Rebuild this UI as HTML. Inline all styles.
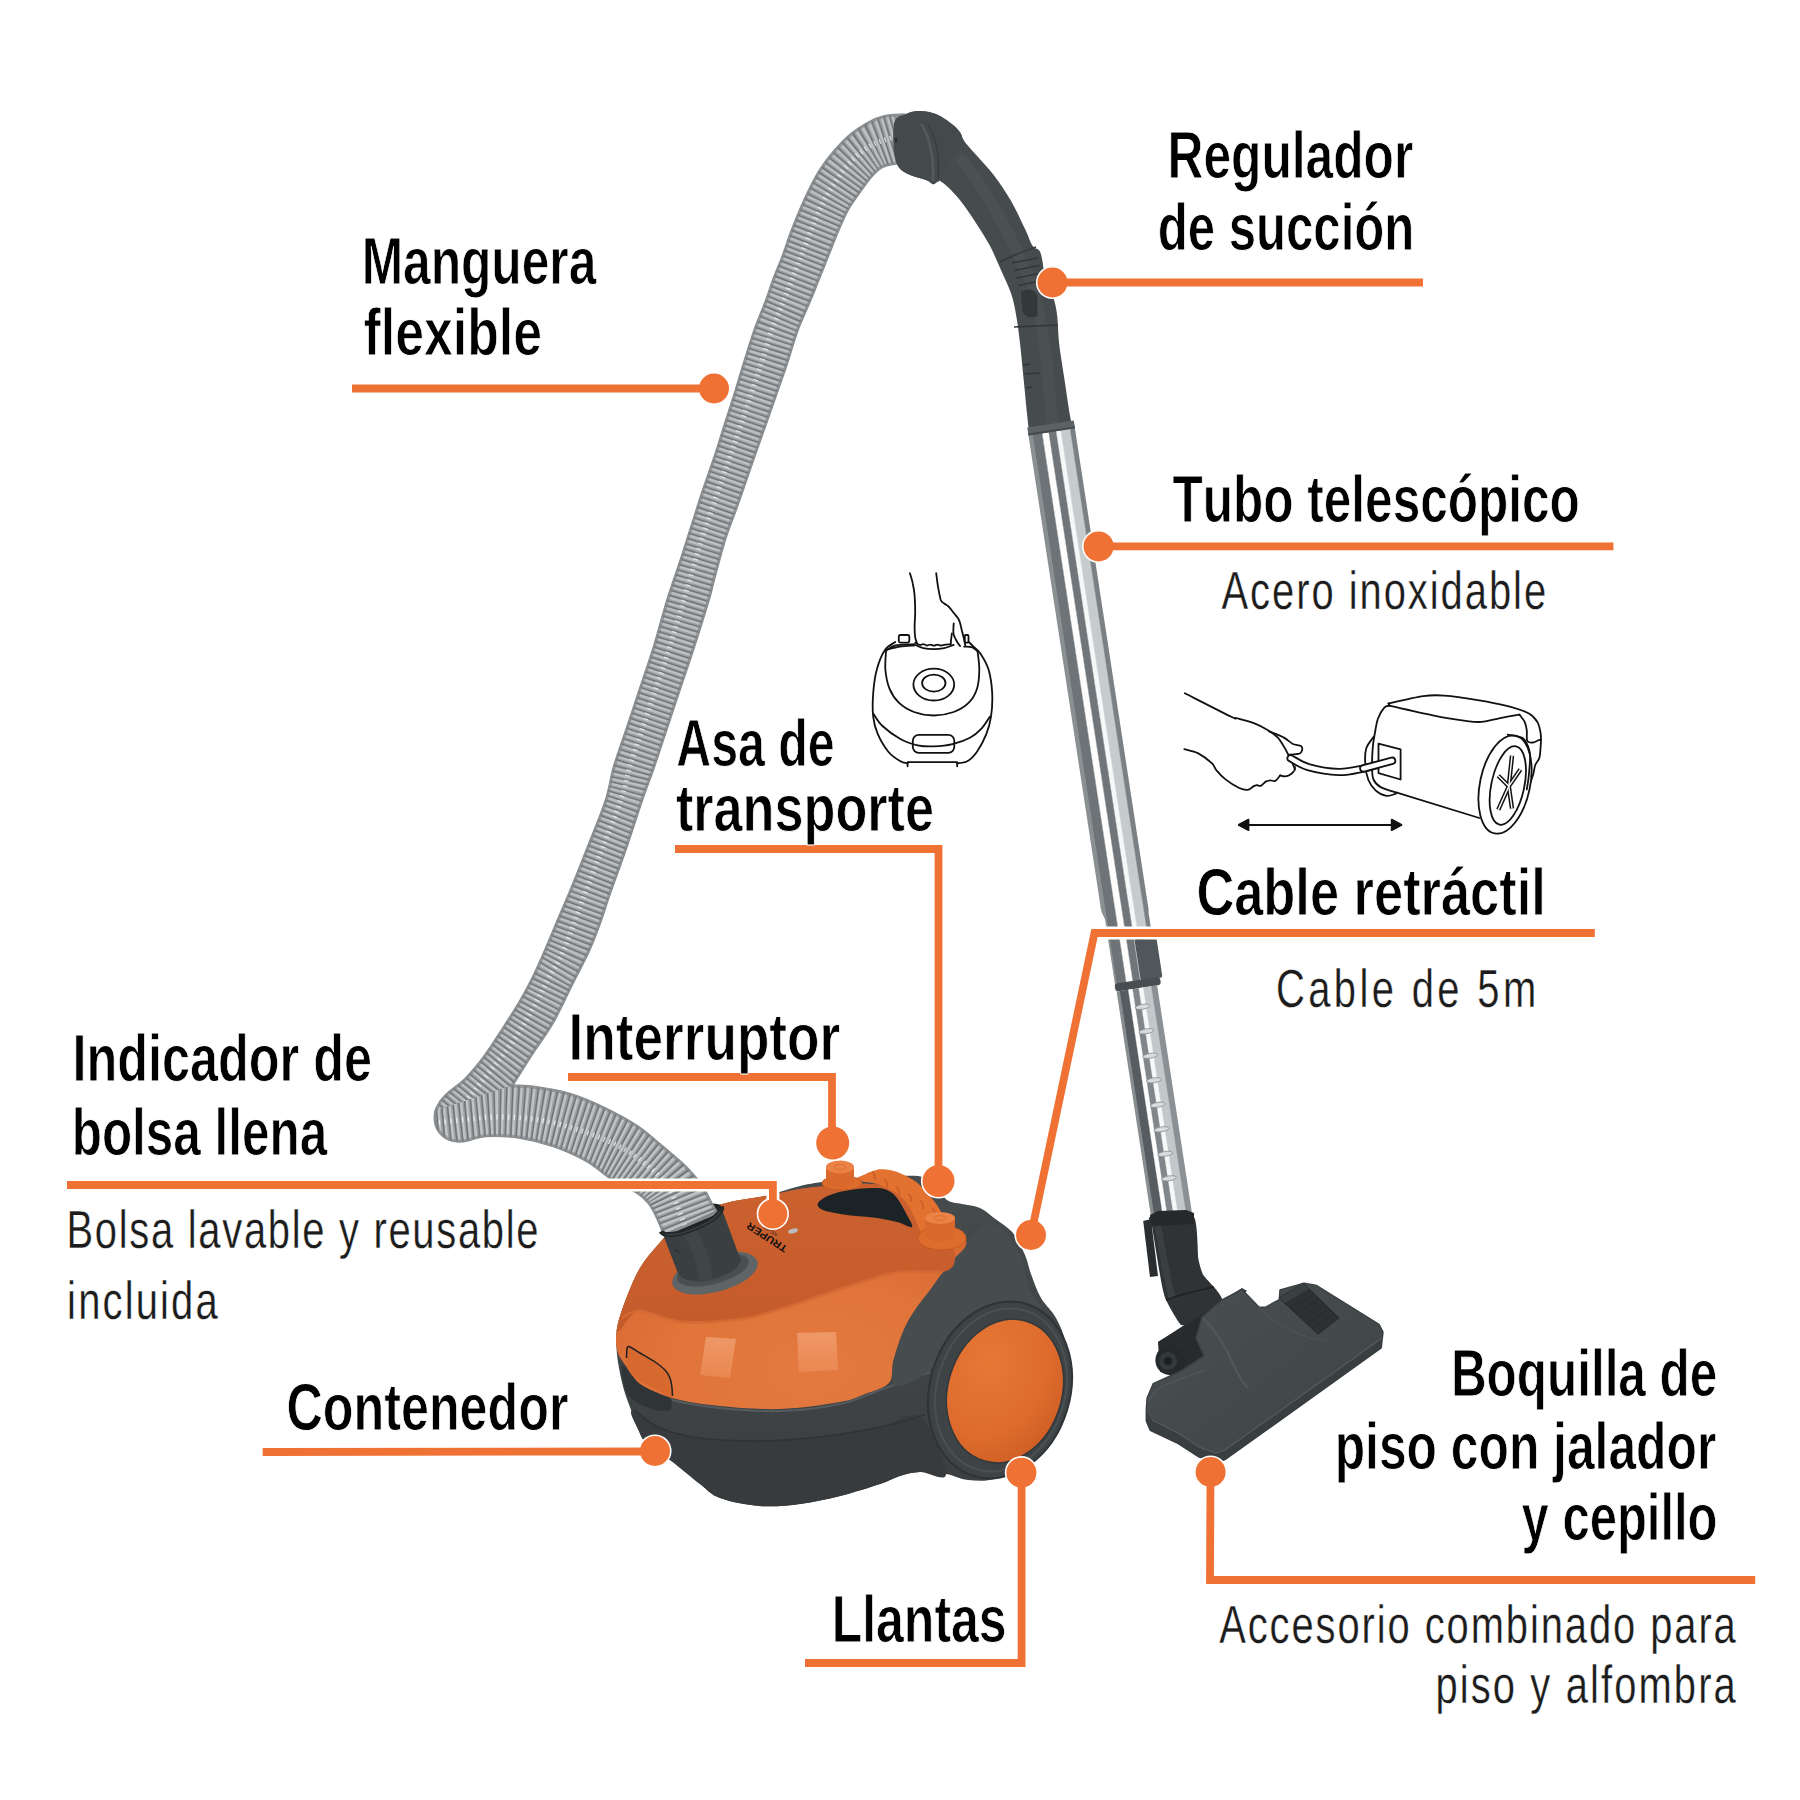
<!DOCTYPE html>
<html><head><meta charset="utf-8"><title>Aspiradora</title>
<style>
html,body{margin:0;padding:0;background:#fff;width:1800px;height:1800px;overflow:hidden}
svg{display:block;font-family:"Liberation Sans", sans-serif;font-kerning:none}
text{font-kerning:none}
</style></head><body>
<svg width="1800" height="1800" viewBox="0 0 1800 1800">
<defs>
<clipPath id="hoseClip"><path d="M664.0,1236.0 C662.5,1232.5 657.7,1220.5 655.0,1215.0 C652.3,1209.5 651.0,1206.9 648.0,1203.3 C645.0,1199.7 642.8,1197.2 636.7,1193.3 C630.7,1189.4 620.0,1185.3 611.7,1180.0 C603.4,1174.7 596.4,1167.2 586.7,1161.7 C577.0,1156.2 564.4,1150.6 553.3,1146.7 C542.2,1142.8 531.1,1140.0 520.0,1138.3 C508.9,1136.6 496.4,1136.1 486.7,1136.7 C477.0,1137.3 468.4,1141.5 462.0,1142.0 C455.6,1142.5 452.2,1141.7 448.3,1140.0 C444.4,1138.3 440.7,1135.0 438.3,1131.7 C435.9,1128.4 434.6,1123.9 434.2,1120.0 C433.8,1116.1 434.0,1112.5 435.8,1108.3 C437.6,1104.1 440.1,1100.0 445.0,1095.0 C449.9,1090.0 458.6,1084.7 465.0,1078.3 C471.4,1071.9 476.9,1065.3 483.3,1056.7 C489.7,1048.1 497.2,1036.2 503.3,1026.7 C509.4,1017.2 515.0,1008.6 520.0,1000.0 C525.0,991.4 528.8,984.2 533.3,975.0 C537.8,965.8 542.6,954.5 546.7,945.0 C550.8,935.5 554.1,927.2 558.0,918.0 C561.9,908.8 565.2,901.6 570.0,890.0 C574.8,878.4 580.8,863.3 586.7,848.3 C592.6,833.3 600.9,813.6 605.3,800.0 C609.7,786.4 609.7,778.9 613.3,766.7 C616.9,754.5 622.2,740.0 626.7,726.7 C631.2,713.4 635.6,700.0 640.0,686.7 C644.4,673.4 648.8,661.2 653.3,646.7 C657.8,632.2 662.2,614.6 666.7,600.0 C671.2,585.4 676.2,571.8 680.3,559.2 C684.4,546.6 687.7,536.0 691.4,524.4 C695.1,512.8 698.8,500.8 702.5,489.7 C706.2,478.6 710.1,468.2 713.6,457.8 C717.1,447.4 720.0,437.4 723.3,427.2 C726.5,417.0 729.9,407.1 733.1,396.7 C736.4,386.3 739.3,375.8 742.8,364.7 C746.3,353.6 750.1,340.8 753.9,330.0 C757.7,319.2 762.4,308.7 765.6,300.0 C768.8,291.3 770.5,285.2 773.3,277.8 C776.1,270.4 779.4,263.0 782.2,255.6 C785.0,248.2 787.2,240.7 790.0,233.3 C792.8,225.9 795.8,218.5 798.9,211.1 C802.0,203.7 805.4,195.9 808.9,188.9 C812.4,181.9 815.8,175.4 820.0,168.9 C824.2,162.4 829.2,155.9 834.4,150.0 C839.6,144.1 845.5,137.9 851.1,133.3 C856.7,128.7 862.2,125.2 867.8,122.2 C873.3,119.2 878.3,117.0 884.4,115.6 C890.5,114.2 901.1,114.2 904.4,113.9 L897.0,164.0 C894.5,164.6 886.5,165.5 882.2,167.8 C877.9,170.1 875.0,173.4 871.1,177.8 C867.2,182.2 862.8,188.9 858.9,194.4 C855.0,199.9 851.3,204.6 847.8,211.1 C844.3,217.6 840.9,225.9 837.8,233.3 C834.6,240.7 831.9,248.2 828.9,255.6 C825.9,263.0 823.0,270.4 820.0,277.8 C817.0,285.2 814.7,291.3 811.1,300.0 C807.5,308.7 802.3,319.2 798.3,330.0 C794.3,340.8 790.7,354.3 787.2,364.7 C783.7,375.1 780.7,383.2 777.5,392.5 C774.3,401.8 771.0,411.1 767.8,420.3 C764.5,429.6 761.2,438.8 758.0,448.0 C754.8,457.2 751.8,465.8 748.3,475.8 C744.8,485.8 740.9,497.4 737.2,507.8 C733.5,518.2 729.8,526.6 726.1,538.3 C722.4,550.0 717.8,567.7 715.0,578.0 C712.2,588.3 712.7,588.5 709.3,600.0 C705.9,611.5 699.4,632.2 694.7,646.7 C690.0,661.2 685.8,673.4 681.3,686.7 C676.8,700.0 672.4,713.4 668.0,726.7 C663.6,740.0 658.8,754.8 654.7,766.7 C650.6,778.6 648.0,784.7 643.3,798.3 C638.6,811.9 632.2,832.2 626.7,848.3 C621.2,864.4 614.2,883.0 610.0,895.0 C605.8,907.0 605.0,910.8 601.7,920.0 C598.4,929.2 594.7,939.5 590.0,950.0 C585.3,960.5 579.4,971.1 573.3,983.3 C567.2,995.5 560.0,1011.6 553.3,1023.3 C546.6,1035.0 540.0,1043.0 533.3,1053.3 C526.6,1063.6 516.6,1079.7 513.3,1085.0 L513.3,1085.0 C517.2,1085.3 527.2,1085.3 536.7,1086.7 C546.2,1088.1 558.9,1090.0 570.0,1093.3 C581.1,1096.6 592.2,1101.4 603.3,1106.7 C614.4,1112.0 627.0,1118.6 636.7,1125.0 C646.4,1131.4 653.4,1138.0 661.7,1145.0 C670.0,1152.0 679.8,1159.8 686.7,1166.7 C693.6,1173.7 699.1,1180.7 703.3,1186.7 C707.5,1192.8 709.5,1198.6 712.0,1203.0 C714.5,1207.4 717.0,1211.3 718.0,1213.0 Z"/></clipPath>
<clipPath id="upHalf"><path d="M0,0 L1800,0 L1800,668.9 L0,1251.0 Z"/></clipPath>
<clipPath id="loHalf"><path d="M0,1800 L1800,1800 L1800,668.9 L0,1251.0 Z"/></clipPath>
<linearGradient id="metal" x1="0" y1="0" x2="1" y2="0"><stop offset="0" stop-color="#8a8f92"/><stop offset="0.086" stop-color="#8a8f92"/><stop offset="0.1" stop-color="#6d7376"/><stop offset="0.28" stop-color="#6d7376"/><stop offset="0.31" stop-color="#fdfdfd"/><stop offset="0.42" stop-color="#fdfdfd"/><stop offset="0.45" stop-color="#6f7579"/><stop offset="0.58" stop-color="#6f7579"/><stop offset="0.61" stop-color="#f6f7f7"/><stop offset="0.68" stop-color="#f6f7f7"/><stop offset="0.71" stop-color="#c6cbce"/><stop offset="0.88" stop-color="#c6cbce"/><stop offset="0.91" stop-color="#7a8084"/><stop offset="1" stop-color="#7a8084"/></linearGradient>
<linearGradient id="metal2" x1="0" y1="0" x2="1" y2="0"><stop offset="0" stop-color="#878c8f"/><stop offset="0.07" stop-color="#878c8f"/><stop offset="0.09" stop-color="#565c5f"/><stop offset="0.27" stop-color="#565c5f"/><stop offset="0.3" stop-color="#fdfdfd"/><stop offset="0.38" stop-color="#fdfdfd"/><stop offset="0.41" stop-color="#80868a"/><stop offset="0.53" stop-color="#80868a"/><stop offset="0.56" stop-color="#f6f7f7"/><stop offset="0.64" stop-color="#f6f7f7"/><stop offset="0.67" stop-color="#c2c7ca"/><stop offset="0.84" stop-color="#c2c7ca"/><stop offset="0.87" stop-color="#8a9094"/><stop offset="1" stop-color="#8a9094"/></linearGradient>
<linearGradient id="metal3" x1="0" y1="0" x2="1" y2="0"><stop offset="0" stop-color="#8a8f92"/><stop offset="0.08" stop-color="#8a8f92"/><stop offset="0.1" stop-color="#666c6f"/><stop offset="0.28" stop-color="#666c6f"/><stop offset="0.31" stop-color="#fbfbfb"/><stop offset="0.4" stop-color="#fbfbfb"/><stop offset="0.43" stop-color="#7d8386"/><stop offset="1" stop-color="#7d8386"/></linearGradient>
<linearGradient id="nozG" x1="0" y1="0" x2="1" y2="1">
<stop offset="0" stop-color="#4a5052"/><stop offset="0.6" stop-color="#43484a"/><stop offset="1" stop-color="#3b4042"/></linearGradient>
<linearGradient id="baseG" x1="0" y1="0" x2="0" y2="1">
<stop offset="0" stop-color="#464b4d"/><stop offset="1" stop-color="#3a3e40"/></linearGradient>
<radialGradient id="orG" cx="0.55" cy="0.82" r="0.8">
<stop offset="0" stop-color="#E47A40"/><stop offset="0.5" stop-color="#E07439"/><stop offset="0.85" stop-color="#D86A33"/><stop offset="1" stop-color="#CC6030"/></radialGradient>
<linearGradient id="orTop" x1="0" y1="0" x2="0" y2="1">
<stop offset="0" stop-color="#CB612F"/><stop offset="0.75" stop-color="#C75D2C"/><stop offset="1" stop-color="#C25A2A"/></linearGradient>
<linearGradient id="refl" x1="0" y1="0" x2="0" y2="1">
<stop offset="0" stop-color="#F2A377" stop-opacity="0.75"/><stop offset="1" stop-color="#F09562" stop-opacity="0.55"/></linearGradient>
<radialGradient id="whG" cx="0.3" cy="0.35" r="0.85">
<stop offset="0" stop-color="#E67836"/><stop offset="0.6" stop-color="#DE6B2D"/><stop offset="1" stop-color="#CA5B22"/></radialGradient>
</defs>
<rect width="1800" height="1800" fill="#fff"/>
<g id="vacuum">
<path d="M616.5,1348.0 C616.2,1341.1 615.6,1335.2 617.3,1326.7 C619.0,1318.2 622.9,1307.1 626.7,1297.3 C630.5,1287.5 634.7,1276.9 640.0,1268.0 C645.3,1259.1 652.0,1251.5 658.7,1244.0 C665.4,1236.5 672.0,1228.5 680.0,1222.7 C688.0,1216.9 697.8,1212.9 706.7,1209.3 C715.6,1205.7 723.5,1203.5 733.3,1201.3 C743.1,1199.1 754.2,1198.5 765.3,1196.0 C776.4,1193.5 789.2,1188.5 800.0,1186.0 C810.8,1183.5 818.3,1182.3 830.0,1181.0 C841.7,1179.7 855.3,1178.8 870.0,1178.0 C884.7,1177.2 907.0,1174.7 918.0,1176.0 C929.0,1177.3 931.2,1182.0 936.0,1186.0 C940.8,1190.0 942.7,1197.0 947.0,1200.0 C951.3,1203.0 956.5,1202.7 962.0,1204.0 C967.5,1205.3 974.7,1205.7 980.0,1208.0 C985.3,1210.3 988.5,1213.8 994.0,1218.0 C999.5,1222.2 1007.8,1226.8 1013.0,1233.0 C1018.2,1239.2 1022.0,1248.2 1025.0,1255.0 C1028.0,1261.8 1028.3,1266.8 1031.0,1274.0 C1033.7,1281.2 1036.8,1290.7 1041.0,1298.0 C1045.2,1305.3 1051.8,1310.2 1056.0,1318.0 C1060.2,1325.8 1064.3,1334.7 1066.0,1345.0 C1067.7,1355.3 1067.3,1369.2 1066.0,1380.0 C1064.7,1390.8 1062.0,1400.2 1058.0,1410.0 C1054.0,1419.8 1048.2,1429.8 1042.0,1439.0 C1035.8,1448.2 1028.8,1458.3 1021.0,1465.0 C1013.2,1471.7 1003.8,1476.5 995.0,1479.0 C986.2,1481.5 976.2,1480.8 968.0,1480.0 C959.8,1479.2 954.0,1475.3 946.0,1474.0 C938.0,1472.7 927.7,1471.7 920.0,1472.0 C912.3,1472.3 906.7,1474.0 900.0,1476.0 C893.3,1478.0 890.0,1480.7 880.0,1484.0 C870.0,1487.3 853.3,1492.7 840.0,1496.0 C826.7,1499.3 813.3,1502.3 800.0,1504.0 C786.7,1505.7 773.3,1507.0 760.0,1506.0 C746.7,1505.0 730.0,1501.7 720.0,1498.0 C710.0,1494.3 708.3,1490.3 700.0,1484.0 C691.7,1477.7 678.7,1466.3 670.0,1460.0 C661.3,1453.7 653.3,1451.2 648.0,1446.0 C642.7,1440.8 640.8,1435.0 638.0,1429.0 C635.2,1423.0 633.3,1416.5 631.0,1410.0 C628.7,1403.5 626.0,1397.0 624.0,1390.0 C622.0,1383.0 620.2,1375.0 619.0,1368.0 C617.8,1361.0 616.8,1354.9 616.5,1348.0 Z" fill="url(#baseG)"/>
<path d="M632.0,1411.0 C635.7,1410.8 648.7,1423.5 660.0,1428.0 C671.3,1432.5 683.3,1435.8 700.0,1438.0 C716.7,1440.2 740.0,1441.2 760.0,1441.0 C780.0,1440.8 800.0,1439.3 820.0,1437.0 C840.0,1434.7 863.3,1430.3 880.0,1427.0 C896.7,1423.7 909.0,1409.2 920.0,1417.0 C931.0,1424.8 946.0,1464.8 946.0,1474.0 C946.0,1483.2 927.7,1471.7 920.0,1472.0 C912.3,1472.3 906.7,1474.0 900.0,1476.0 C893.3,1478.0 890.0,1480.7 880.0,1484.0 C870.0,1487.3 853.3,1492.7 840.0,1496.0 C826.7,1499.3 813.3,1502.3 800.0,1504.0 C786.7,1505.7 773.3,1507.0 760.0,1506.0 C746.7,1505.0 730.0,1501.7 720.0,1498.0 C710.0,1494.3 708.3,1490.3 700.0,1484.0 C691.7,1477.7 678.7,1466.3 670.0,1460.0 C661.3,1453.7 653.3,1451.2 648.0,1446.0 C642.7,1440.8 640.7,1434.8 638.0,1429.0 C635.3,1423.2 628.3,1411.2 632.0,1411.0 Z" fill="#373b3d"/>
<path d="M634.0,1410.0 C638.3,1413.0 649.0,1423.3 660.0,1428.0 C671.0,1432.7 683.3,1435.8 700.0,1438.0 C716.7,1440.2 740.0,1441.2 760.0,1441.0 C780.0,1440.8 800.0,1439.3 820.0,1437.0 C840.0,1434.7 862.5,1430.7 880.0,1427.0 C897.5,1423.3 917.5,1417.0 925.0,1415.0" fill="none" stroke="#2f3335" stroke-width="1.5"/>
<path d="M640.0,1388.0 C645.3,1390.0 658.7,1396.7 672.0,1400.0 C685.3,1403.3 702.0,1406.2 720.0,1408.0 C738.0,1409.8 760.0,1411.7 780.0,1411.0 C800.0,1410.3 823.3,1407.5 840.0,1404.0 C856.7,1400.5 865.0,1395.3 880.0,1390.0 C895.0,1384.7 921.7,1375.0 930.0,1372.0" fill="none" stroke="#555b5e" stroke-width="2"/>
<path d="M943.0,1272.0 C950.2,1262.5 953.0,1257.8 960.0,1250.0 C967.0,1242.2 977.5,1228.0 985.0,1225.0 C992.5,1222.0 999.2,1227.0 1005.0,1232.0 C1010.8,1237.0 1015.8,1245.3 1020.0,1255.0 C1024.2,1264.7 1026.7,1280.8 1030.0,1290.0 C1033.3,1299.2 1045.0,1305.3 1040.0,1310.0 C1035.0,1314.7 1013.3,1314.7 1000.0,1318.0 C986.7,1321.3 971.7,1321.3 960.0,1330.0 C948.3,1338.7 941.0,1360.8 930.0,1370.0 C919.0,1379.2 899.0,1390.0 894.0,1385.0 C889.0,1380.0 896.2,1353.0 900.0,1340.0 C903.8,1327.0 909.8,1318.3 917.0,1307.0 C924.2,1295.7 935.8,1281.5 943.0,1272.0 Z" fill="#474c4f"/>
<path d="M617.0,1350.0 C615.5,1343.5 615.7,1335.5 617.3,1326.7 C618.9,1317.9 622.9,1307.1 626.7,1297.3 C630.5,1287.5 634.7,1276.9 640.0,1268.0 C645.3,1259.1 652.0,1251.5 658.7,1244.0 C665.4,1236.5 672.0,1228.5 680.0,1222.7 C688.0,1216.9 697.8,1212.9 706.7,1209.3 C715.6,1205.7 723.5,1203.5 733.3,1201.3 C743.1,1199.1 754.2,1198.0 765.3,1196.0 C776.4,1194.0 789.2,1190.7 800.0,1189.0 C810.8,1187.3 818.3,1186.8 830.0,1186.0 C841.7,1185.2 857.5,1183.3 870.0,1184.0 C882.5,1184.7 895.3,1186.3 905.0,1190.0 C914.7,1193.7 921.3,1200.2 928.0,1206.0 C934.7,1211.8 939.3,1220.7 945.0,1225.0 C950.7,1229.3 958.5,1228.7 962.0,1232.0 C965.5,1235.3 967.2,1240.7 966.0,1245.0 C964.8,1249.3 958.8,1253.5 955.0,1258.0 C951.2,1262.5 947.2,1266.7 943.0,1272.0 C938.8,1277.3 934.3,1284.2 930.0,1290.0 C925.7,1295.8 920.8,1301.5 917.0,1307.0 C913.2,1312.5 910.0,1317.2 907.0,1323.0 C904.0,1328.8 901.3,1335.5 899.0,1342.0 C896.7,1348.5 894.7,1355.2 893.0,1362.0 C891.3,1368.8 893.7,1377.7 889.0,1383.0 C884.3,1388.3 873.2,1390.8 865.0,1394.0 C856.8,1397.2 854.2,1399.5 840.0,1402.0 C825.8,1404.5 800.0,1408.3 780.0,1409.0 C760.0,1409.7 738.0,1407.8 720.0,1406.0 C702.0,1404.2 685.3,1401.7 672.0,1398.0 C658.7,1394.3 647.7,1389.3 640.0,1384.0 C632.3,1378.7 629.8,1371.7 626.0,1366.0 C622.2,1360.3 618.5,1356.5 617.0,1350.0 Z" fill="url(#orG)"/>
<path d="M617.3,1326.7 C618.4,1321.2 622.9,1307.1 626.7,1297.3 C630.5,1287.5 634.7,1276.9 640.0,1268.0 C645.3,1259.1 652.0,1251.5 658.7,1244.0 C665.4,1236.5 672.0,1228.5 680.0,1222.7 C688.0,1216.9 697.8,1212.9 706.7,1209.3 C715.6,1205.7 723.5,1203.5 733.3,1201.3 C743.1,1199.1 754.2,1198.0 765.3,1196.0 C776.4,1194.0 789.2,1190.7 800.0,1189.0 C810.8,1187.3 818.3,1186.8 830.0,1186.0 C841.7,1185.2 857.5,1183.3 870.0,1184.0 C882.5,1184.7 895.3,1186.3 905.0,1190.0 C914.7,1193.7 921.3,1200.2 928.0,1206.0 C934.7,1211.8 940.5,1216.3 945.0,1225.0 C949.5,1233.7 955.3,1250.2 955.0,1258.0 C954.7,1265.8 952.2,1269.7 943.0,1272.0 C933.8,1274.3 912.0,1270.8 900.0,1272.0 C888.0,1273.2 883.0,1275.5 871.0,1279.0 C859.0,1282.5 842.5,1288.2 828.0,1293.0 C813.5,1297.8 798.5,1303.7 784.0,1308.0 C769.5,1312.3 757.8,1316.7 741.0,1319.0 C724.2,1321.3 699.8,1323.3 683.0,1322.0 C666.2,1320.7 650.5,1309.7 640.0,1311.0 C629.5,1312.3 623.8,1327.4 620.0,1330.0 C616.2,1332.6 616.2,1332.2 617.3,1326.7 Z" fill="url(#orTop)"/>
<path d="M622.0,1318.0 C625.0,1316.8 629.8,1310.3 640.0,1311.0 C650.2,1311.7 666.2,1320.7 683.0,1322.0 C699.8,1323.3 724.2,1321.3 741.0,1319.0 C757.8,1316.7 769.5,1312.3 784.0,1308.0 C798.5,1303.7 813.5,1297.8 828.0,1293.0 C842.5,1288.2 859.0,1282.5 871.0,1279.0 C883.0,1275.5 888.0,1273.2 900.0,1272.0 C912.0,1270.8 935.8,1272.0 943.0,1272.0" fill="none" stroke="#D46A35" stroke-width="3" opacity="0.8"/>
<path d="M706.0,1337.0 L736.0,1339.0 L730.0,1378.0 L700.0,1375.0 Z" fill="url(#refl)"/>
<path d="M797.0,1333.0 L836.0,1332.0 L838.0,1370.0 L799.0,1372.0 Z" fill="url(#refl)"/>
<path d="M818.0,1203.0 C819.2,1200.5 824.7,1197.2 830.0,1195.0 C835.3,1192.8 842.8,1191.2 850.0,1190.0 C857.2,1188.8 866.8,1188.0 873.0,1188.0 C879.2,1188.0 883.0,1188.3 887.0,1190.0 C891.0,1191.7 893.7,1193.8 897.0,1198.0 C900.3,1202.2 904.5,1210.2 907.0,1215.0 C909.5,1219.8 913.7,1225.8 912.0,1227.0 C910.3,1228.2 902.8,1223.5 897.0,1222.0 C891.2,1220.5 885.3,1219.2 877.0,1218.0 C868.7,1216.8 856.0,1216.3 847.0,1215.0 C838.0,1213.7 827.8,1212.0 823.0,1210.0 C818.2,1208.0 816.8,1205.5 818.0,1203.0 Z" fill="#1c2326"/>
<path d="M821.7,1185.0 C823.9,1184.3 829.5,1182.1 835.0,1181.0 C840.5,1179.9 848.6,1180.0 855.0,1178.3 C861.4,1176.6 868.6,1172.3 873.3,1170.8 C878.0,1169.3 879.4,1169.0 883.3,1169.2 C887.2,1169.4 891.7,1169.9 896.7,1171.7 C901.7,1173.5 908.6,1177.0 913.3,1180.0 C918.0,1183.0 921.7,1186.7 925.0,1190.0 C928.3,1193.3 930.8,1196.7 933.3,1200.0 C935.8,1203.3 937.9,1206.0 940.0,1210.0 C942.1,1214.0 945.0,1221.7 946.0,1224.0 L921.7,1233.3 C921.1,1232.2 919.7,1229.8 918.3,1226.7 C916.9,1223.7 915.2,1218.9 913.3,1215.0 C911.4,1211.1 909.5,1206.9 906.7,1203.3 C903.9,1199.7 901.2,1196.3 896.7,1193.3 C892.2,1190.2 885.6,1186.9 880.0,1185.0 C874.4,1183.1 868.3,1182.0 863.3,1181.7 C858.3,1181.4 854.7,1181.9 850.0,1183.3 C845.3,1184.7 837.5,1188.9 835.0,1190.0 Z" fill="#E3712F"/>
<path d="M872.0,1172.0 q4,3 3,8" fill="none" stroke="#C25A25" stroke-width="1.3"/>
<path d="M884.0,1179.2 q4,3 3,8" fill="none" stroke="#C25A25" stroke-width="1.3"/>
<path d="M896.0,1186.4 q4,3 3,8" fill="none" stroke="#C25A25" stroke-width="1.3"/>
<path d="M908.0,1193.6 q4,3 3,8" fill="none" stroke="#C25A25" stroke-width="1.3"/>
<path d="M920.0,1200.8 q4,3 3,8" fill="none" stroke="#C25A25" stroke-width="1.3"/>
<path d="M932.0,1208.0 q4,3 3,8" fill="none" stroke="#C25A25" stroke-width="1.3"/>
<ellipse cx="842.0" cy="1183.0" rx="20" ry="7" fill="#DE6C2C" stroke="#C65B25" stroke-width="1"/>
<path d="M826.0,1167.0 L826.0,1181.0 A14,6.5 0 0 0 854.0,1181.0 L854.0,1167.0 Z" fill="#D8682B"/>
<ellipse cx="840.0" cy="1167.0" rx="14" ry="6.5" fill="#EC8246"/>
<ellipse cx="840.0" cy="1167.0" rx="5.6" ry="2.6" fill="none" stroke="#D8692C" stroke-width="0.8"/>
<ellipse cx="942.0" cy="1238.0" rx="24" ry="12" fill="#DE6C2C" stroke="#C65B25" stroke-width="1"/>
<path d="M925.0,1218.0 L925.0,1235.0 A15,6 0 0 0 955.0,1235.0 L955.0,1218.0 Z" fill="#D8682B"/>
<ellipse cx="940.0" cy="1218.0" rx="15" ry="6" fill="#EC8246"/>
<ellipse cx="940.0" cy="1218.0" rx="6.0" ry="2.4" fill="none" stroke="#D8692C" stroke-width="0.8"/>
<ellipse cx="715" cy="1273" rx="44" ry="19" transform="rotate(-15 715 1273)" fill="#5f6466"/>
<ellipse cx="713" cy="1270" rx="37" ry="14" transform="rotate(-15 713 1270)" fill="#4a4f51"/>
<path d="M661.7,1231 L677.8,1273 C688,1290 735,1278 741,1261 L721,1206.7 Z" fill="#3a3f41"/>
<path d="M690,1232 C700,1250 705,1265 706,1282" fill="none" stroke="#454a4c" stroke-width="14" opacity="0.6"/>
<ellipse cx="691.3" cy="1219" rx="32.5" ry="10" transform="rotate(-22.3 691.3 1219)" fill="#1f2325"/>
<path d="M675,1251 c2,-1 4,0 4,2" fill="none" stroke="#222" stroke-width="1"/>
<ellipse cx="792" cy="1230.5" rx="8" ry="3.5" transform="rotate(-15 792 1230.5)" fill="#c96128"/>
<ellipse cx="793" cy="1231" rx="5" ry="2.3" transform="rotate(-15 793 1231)" fill="#b9bcbe"/>
<text x="0" y="0" font-size="10" font-weight="bold" fill="#111" textLength="46" lengthAdjust="spacingAndGlyphs" transform="translate(788,1247) rotate(-147)">TRUPER</text>
<text x="0" y="0" font-size="4.5" fill="#222" textLength="16" lengthAdjust="spacingAndGlyphs" transform="translate(778,1234) rotate(-147)">ASD-650</text>
<path d="M622.0,1365.0 C623.9,1363.9 634.9,1380.1 640.0,1384.0 C645.1,1387.9 655.9,1392.0 660.0,1394.0 C664.1,1396.0 669.7,1396.9 671.0,1399.0 C672.3,1401.1 672.1,1408.5 670.0,1410.0 C667.9,1411.5 659.3,1410.9 655.0,1410.0 C650.7,1409.1 641.9,1405.4 638.0,1403.0 C634.1,1400.6 628.1,1397.1 626.0,1392.0 C623.9,1386.9 620.1,1366.1 622.0,1365.0 Z" fill="#2f3436"/>
<path d="M627.0,1349.0 C627.3,1347.2 627.3,1346.0 629.0,1346.5 C630.7,1347.0 636.5,1350.9 640.0,1353.0 C643.5,1355.1 651.7,1359.7 655.0,1362.0 C658.3,1364.3 663.0,1367.9 665.0,1370.0 C667.0,1372.1 669.1,1375.6 670.0,1378.0 C670.9,1380.4 671.7,1385.6 672.0,1388.0 C672.3,1390.4 672.8,1394.7 672.5,1396.0 C672.2,1397.3 672.3,1398.4 670.0,1397.5 C667.7,1396.6 659.0,1391.2 655.0,1389.0 C651.0,1386.8 643.5,1383.4 640.0,1381.0 C636.5,1378.6 630.8,1373.8 629.0,1371.0 C627.2,1368.2 626.8,1362.9 626.5,1360.0 C626.2,1357.1 626.7,1350.8 627.0,1349.0 Z" fill="#D8692E"/>
<path d="M626.5,1358.0 C626.6,1356.8 626.7,1350.5 627.0,1349.0 C627.3,1347.5 627.3,1346.0 629.0,1346.5 C630.7,1347.0 636.5,1350.9 640.0,1353.0 C643.5,1355.1 651.7,1359.7 655.0,1362.0 C658.3,1364.3 663.0,1367.9 665.0,1370.0 C667.0,1372.1 669.1,1375.6 670.0,1378.0 C670.9,1380.4 671.7,1385.6 672.0,1388.0 C672.3,1390.4 672.4,1394.9 672.5,1396.0" fill="none" stroke="#1d2122" stroke-width="1.5"/>
<ellipse cx="1000" cy="1390" rx="70" ry="90" transform="rotate(17 1000 1390)" fill="#3e4345"/>
<ellipse cx="1000" cy="1390" rx="70" ry="90" transform="rotate(17 1000 1390)" fill="none" stroke="#2f3335" stroke-width="2"/>
<ellipse cx="1001" cy="1390" rx="64" ry="83" transform="rotate(17 1001 1390)" fill="none" stroke="#4b5153" stroke-width="2"/>
<ellipse cx="1005" cy="1391" rx="57" ry="73" transform="rotate(17 1005 1391)" fill="url(#whG)" stroke="#33383a" stroke-width="1.5"/>
<path d="M664.0,1236.0 C662.5,1232.5 657.7,1220.5 655.0,1215.0 C652.3,1209.5 651.0,1206.9 648.0,1203.3 C645.0,1199.7 642.8,1197.2 636.7,1193.3 C630.7,1189.4 620.0,1185.3 611.7,1180.0 C603.4,1174.7 596.4,1167.2 586.7,1161.7 C577.0,1156.2 564.4,1150.6 553.3,1146.7 C542.2,1142.8 531.1,1140.0 520.0,1138.3 C508.9,1136.6 496.4,1136.1 486.7,1136.7 C477.0,1137.3 468.4,1141.5 462.0,1142.0 C455.6,1142.5 452.2,1141.7 448.3,1140.0 C444.4,1138.3 440.7,1135.0 438.3,1131.7 C435.9,1128.4 434.6,1123.9 434.2,1120.0 C433.8,1116.1 434.0,1112.5 435.8,1108.3 C437.6,1104.1 440.1,1100.0 445.0,1095.0 C449.9,1090.0 458.6,1084.7 465.0,1078.3 C471.4,1071.9 476.9,1065.3 483.3,1056.7 C489.7,1048.1 497.2,1036.2 503.3,1026.7 C509.4,1017.2 515.0,1008.6 520.0,1000.0 C525.0,991.4 528.8,984.2 533.3,975.0 C537.8,965.8 542.6,954.5 546.7,945.0 C550.8,935.5 554.1,927.2 558.0,918.0 C561.9,908.8 565.2,901.6 570.0,890.0 C574.8,878.4 580.8,863.3 586.7,848.3 C592.6,833.3 600.9,813.6 605.3,800.0 C609.7,786.4 609.7,778.9 613.3,766.7 C616.9,754.5 622.2,740.0 626.7,726.7 C631.2,713.4 635.6,700.0 640.0,686.7 C644.4,673.4 648.8,661.2 653.3,646.7 C657.8,632.2 662.2,614.6 666.7,600.0 C671.2,585.4 676.2,571.8 680.3,559.2 C684.4,546.6 687.7,536.0 691.4,524.4 C695.1,512.8 698.8,500.8 702.5,489.7 C706.2,478.6 710.1,468.2 713.6,457.8 C717.1,447.4 720.0,437.4 723.3,427.2 C726.5,417.0 729.9,407.1 733.1,396.7 C736.4,386.3 739.3,375.8 742.8,364.7 C746.3,353.6 750.1,340.8 753.9,330.0 C757.7,319.2 762.4,308.7 765.6,300.0 C768.8,291.3 770.5,285.2 773.3,277.8 C776.1,270.4 779.4,263.0 782.2,255.6 C785.0,248.2 787.2,240.7 790.0,233.3 C792.8,225.9 795.8,218.5 798.9,211.1 C802.0,203.7 805.4,195.9 808.9,188.9 C812.4,181.9 815.8,175.4 820.0,168.9 C824.2,162.4 829.2,155.9 834.4,150.0 C839.6,144.1 845.5,137.9 851.1,133.3 C856.7,128.7 862.2,125.2 867.8,122.2 C873.3,119.2 878.3,117.0 884.4,115.6 C890.5,114.2 901.1,114.2 904.4,113.9 L897.0,164.0 C894.5,164.6 886.5,165.5 882.2,167.8 C877.9,170.1 875.0,173.4 871.1,177.8 C867.2,182.2 862.8,188.9 858.9,194.4 C855.0,199.9 851.3,204.6 847.8,211.1 C844.3,217.6 840.9,225.9 837.8,233.3 C834.6,240.7 831.9,248.2 828.9,255.6 C825.9,263.0 823.0,270.4 820.0,277.8 C817.0,285.2 814.7,291.3 811.1,300.0 C807.5,308.7 802.3,319.2 798.3,330.0 C794.3,340.8 790.7,354.3 787.2,364.7 C783.7,375.1 780.7,383.2 777.5,392.5 C774.3,401.8 771.0,411.1 767.8,420.3 C764.5,429.6 761.2,438.8 758.0,448.0 C754.8,457.2 751.8,465.8 748.3,475.8 C744.8,485.8 740.9,497.4 737.2,507.8 C733.5,518.2 729.8,526.6 726.1,538.3 C722.4,550.0 717.8,567.7 715.0,578.0 C712.2,588.3 712.7,588.5 709.3,600.0 C705.9,611.5 699.4,632.2 694.7,646.7 C690.0,661.2 685.8,673.4 681.3,686.7 C676.8,700.0 672.4,713.4 668.0,726.7 C663.6,740.0 658.8,754.8 654.7,766.7 C650.6,778.6 648.0,784.7 643.3,798.3 C638.6,811.9 632.2,832.2 626.7,848.3 C621.2,864.4 614.2,883.0 610.0,895.0 C605.8,907.0 605.0,910.8 601.7,920.0 C598.4,929.2 594.7,939.5 590.0,950.0 C585.3,960.5 579.4,971.1 573.3,983.3 C567.2,995.5 560.0,1011.6 553.3,1023.3 C546.6,1035.0 540.0,1043.0 533.3,1053.3 C526.6,1063.6 516.6,1079.7 513.3,1085.0 L513.3,1085.0 C517.2,1085.3 527.2,1085.3 536.7,1086.7 C546.2,1088.1 558.9,1090.0 570.0,1093.3 C581.1,1096.6 592.2,1101.4 603.3,1106.7 C614.4,1112.0 627.0,1118.6 636.7,1125.0 C646.4,1131.4 653.4,1138.0 661.7,1145.0 C670.0,1152.0 679.8,1159.8 686.7,1166.7 C693.6,1173.7 699.1,1180.7 703.3,1186.7 C707.5,1192.8 709.5,1198.6 712.0,1203.0 C714.5,1207.4 717.0,1211.3 718.0,1213.0 Z" fill="#9a9ea1"/>
<g clip-path="url(#hoseClip)" fill="none">
<g clip-path="url(#loHalf)">
<path d="M696.0,1232.0 C695.0,1230.3 693.7,1229.8 690.0,1222.0 C686.3,1214.2 680.7,1195.3 674.0,1185.0 C667.3,1174.7 659.0,1167.5 650.0,1160.0 C641.0,1152.5 631.7,1146.0 620.0,1140.0 C608.3,1134.0 593.3,1128.3 580.0,1124.0 C566.7,1119.7 553.3,1116.2 540.0,1114.0 C526.7,1111.8 511.7,1111.2 500.0,1111.0 C488.3,1110.8 480.0,1112.2 470.0,1113.0 C460.0,1113.8 450.0,1115.2 440.0,1116.0 C430.0,1116.8 415.0,1117.7 410.0,1118.0" stroke="#c0c3c5" stroke-width="80" stroke-dasharray="2.4 3.4"/>
<path d="M696.0,1232.0 C695.0,1230.3 693.7,1229.8 690.0,1222.0 C686.3,1214.2 680.7,1195.3 674.0,1185.0 C667.3,1174.7 659.0,1167.5 650.0,1160.0 C641.0,1152.5 631.7,1146.0 620.0,1140.0 C608.3,1134.0 593.3,1128.3 580.0,1124.0 C566.7,1119.7 553.3,1116.2 540.0,1114.0 C526.7,1111.8 511.7,1111.2 500.0,1111.0 C488.3,1110.8 480.0,1112.2 470.0,1113.0 C460.0,1113.8 450.0,1115.2 440.0,1116.0 C430.0,1116.8 415.0,1117.7 410.0,1118.0" stroke="#6f7477" stroke-width="80" stroke-dasharray="1.4 4.4" stroke-dashoffset="-2.8"/>
<path d="M690.9,1235.1 C689.8,1233.3 688.2,1232.3 684.6,1224.5 C680.9,1216.7 675.4,1198.2 669.0,1188.3 C662.6,1178.3 654.8,1171.8 646.2,1164.6 C637.5,1157.5 628.6,1151.2 617.3,1145.3 C605.9,1139.5 591.2,1133.9 578.1,1129.7 C565.1,1125.5 552.1,1122.0 539.0,1119.9 C526.0,1117.8 511.3,1117.2 499.9,1117.0 C488.5,1116.8 480.4,1118.1 470.5,1119.0 C460.6,1119.8 450.5,1121.1 440.5,1122.0 C430.5,1122.8 415.4,1123.7 410.4,1124.0" stroke="#eef0f1" stroke-width="5" stroke-dasharray="1.3 4.5" opacity="0.85"/>
</g><g clip-path="url(#upHalf)">
<path d="M448.0,1130.0 C451.3,1125.8 461.3,1113.3 468.0,1105.0 C474.7,1096.7 481.3,1088.3 488.0,1080.0 C494.7,1071.7 501.3,1064.2 508.0,1055.0 C514.7,1045.8 522.3,1034.2 528.0,1025.0 C533.7,1015.8 538.0,1007.5 542.0,1000.0 C546.0,992.5 547.7,988.3 552.0,980.0 C556.3,971.7 561.6,965.0 568.0,950.0 C574.4,935.0 584.0,907.0 590.5,890.0 C597.0,873.0 600.9,863.3 606.7,848.3 C612.5,833.3 620.8,813.6 625.3,800.0 C629.8,786.4 630.3,778.9 634.0,766.7 C637.7,754.5 642.8,740.0 647.3,726.7 C651.8,713.4 656.2,700.0 660.7,686.7 C665.2,673.4 669.5,661.2 674.0,646.7 C678.5,632.2 682.6,618.1 688.0,600.0 C693.4,581.9 699.9,558.8 706.5,538.0 C713.1,517.2 721.2,494.7 727.9,475.0 C734.6,455.3 740.5,438.4 746.7,420.0 C752.9,401.6 760.1,379.7 765.0,364.7 C769.9,349.7 772.2,340.8 776.1,330.0 C780.0,319.2 783.5,312.4 788.4,300.0 C793.3,287.6 799.7,270.4 805.5,255.6 C811.3,240.8 817.9,222.9 823.3,211.1 C828.7,199.3 832.7,193.0 838.0,185.0 C843.3,177.0 848.8,169.2 855.0,163.0 C861.2,156.8 867.2,152.0 875.0,148.0 C882.8,144.0 897.5,140.5 902.0,139.0" stroke="#bcc0c2" stroke-width="80" stroke-dasharray="2.2 3.2"/>
<path d="M448.0,1130.0 C451.3,1125.8 461.3,1113.3 468.0,1105.0 C474.7,1096.7 481.3,1088.3 488.0,1080.0 C494.7,1071.7 501.3,1064.2 508.0,1055.0 C514.7,1045.8 522.3,1034.2 528.0,1025.0 C533.7,1015.8 538.0,1007.5 542.0,1000.0 C546.0,992.5 547.7,988.3 552.0,980.0 C556.3,971.7 561.6,965.0 568.0,950.0 C574.4,935.0 584.0,907.0 590.5,890.0 C597.0,873.0 600.9,863.3 606.7,848.3 C612.5,833.3 620.8,813.6 625.3,800.0 C629.8,786.4 630.3,778.9 634.0,766.7 C637.7,754.5 642.8,740.0 647.3,726.7 C651.8,713.4 656.2,700.0 660.7,686.7 C665.2,673.4 669.5,661.2 674.0,646.7 C678.5,632.2 682.6,618.1 688.0,600.0 C693.4,581.9 699.9,558.8 706.5,538.0 C713.1,517.2 721.2,494.7 727.9,475.0 C734.6,455.3 740.5,438.4 746.7,420.0 C752.9,401.6 760.1,379.7 765.0,364.7 C769.9,349.7 772.2,340.8 776.1,330.0 C780.0,319.2 783.5,312.4 788.4,300.0 C793.3,287.6 799.7,270.4 805.5,255.6 C811.3,240.8 817.9,222.9 823.3,211.1 C828.7,199.3 832.7,193.0 838.0,185.0 C843.3,177.0 848.8,169.2 855.0,163.0 C861.2,156.8 867.2,152.0 875.0,148.0 C882.8,144.0 897.5,140.5 902.0,139.0" stroke="#707578" stroke-width="80" stroke-dasharray="1.3 4.1" stroke-dashoffset="-2.7"/>
<path d="M444.9,1127.5 C448.2,1123.3 458.2,1110.8 464.9,1102.5 C471.5,1094.2 478.2,1085.8 484.9,1077.5 C491.5,1069.2 498.1,1061.7 504.8,1052.6 C511.4,1043.5 519.0,1032.0 524.6,1022.9 C530.2,1013.8 534.5,1005.6 538.5,998.1 C542.4,990.7 544.1,986.4 548.5,978.2 C552.8,969.9 557.9,963.4 564.3,948.4 C570.7,933.5 580.3,905.5 586.8,888.6 C593.2,871.6 597.2,861.8 603.0,846.9 C608.8,831.9 617.0,812.3 621.5,798.7 C626.0,785.2 626.5,777.8 630.2,765.6 C633.8,753.3 639.0,738.8 643.5,725.4 C648.0,712.1 652.5,698.8 656.9,685.4 C661.4,672.1 665.6,659.9 670.2,645.5 C674.7,631.1 678.8,617.0 684.2,598.9 C689.6,580.7 696.0,557.6 702.7,536.8 C709.3,515.9 717.4,493.4 724.1,473.7 C730.8,454.0 736.7,437.1 742.9,418.7 C749.1,400.3 756.3,378.5 761.2,363.5 C766.1,348.4 768.4,339.5 772.3,328.6 C776.3,317.8 779.8,310.9 784.7,298.5 C789.6,286.1 795.9,269.0 801.8,254.1 C807.6,239.3 814.2,221.3 819.7,209.4 C825.1,197.5 829.2,191.0 834.7,182.8 C840.1,174.6 845.8,166.6 852.2,160.2 C858.6,153.8 865.1,148.6 873.2,144.4 C881.3,140.3 896.1,136.7 900.7,135.2" stroke="#eef0f1" stroke-width="5" stroke-dasharray="1.2 4.2" opacity="0.8"/>
</g>
<path d="M664.0,1236.0 C662.5,1232.5 657.7,1220.5 655.0,1215.0 C652.3,1209.5 651.0,1206.9 648.0,1203.3 C645.0,1199.7 642.8,1197.2 636.7,1193.3 C630.7,1189.4 620.0,1185.3 611.7,1180.0 C603.4,1174.7 596.4,1167.2 586.7,1161.7 C577.0,1156.2 564.4,1150.6 553.3,1146.7 C542.2,1142.8 531.1,1140.0 520.0,1138.3 C508.9,1136.6 496.4,1136.1 486.7,1136.7 C477.0,1137.3 468.4,1141.5 462.0,1142.0 C455.6,1142.5 452.2,1141.7 448.3,1140.0 C444.4,1138.3 440.7,1135.0 438.3,1131.7 C435.9,1128.4 434.6,1123.9 434.2,1120.0 C433.8,1116.1 434.0,1112.5 435.8,1108.3 C437.6,1104.1 440.1,1100.0 445.0,1095.0 C449.9,1090.0 458.6,1084.7 465.0,1078.3 C471.4,1071.9 476.9,1065.3 483.3,1056.7 C489.7,1048.1 497.2,1036.2 503.3,1026.7 C509.4,1017.2 515.0,1008.6 520.0,1000.0 C525.0,991.4 528.8,984.2 533.3,975.0 C537.8,965.8 542.6,954.5 546.7,945.0 C550.8,935.5 554.1,927.2 558.0,918.0 C561.9,908.8 565.2,901.6 570.0,890.0 C574.8,878.4 580.8,863.3 586.7,848.3 C592.6,833.3 600.9,813.6 605.3,800.0 C609.7,786.4 609.7,778.9 613.3,766.7 C616.9,754.5 622.2,740.0 626.7,726.7 C631.2,713.4 635.6,700.0 640.0,686.7 C644.4,673.4 648.8,661.2 653.3,646.7 C657.8,632.2 662.2,614.6 666.7,600.0 C671.2,585.4 676.2,571.8 680.3,559.2 C684.4,546.6 687.7,536.0 691.4,524.4 C695.1,512.8 698.8,500.8 702.5,489.7 C706.2,478.6 710.1,468.2 713.6,457.8 C717.1,447.4 720.0,437.4 723.3,427.2 C726.5,417.0 729.9,407.1 733.1,396.7 C736.4,386.3 739.3,375.8 742.8,364.7 C746.3,353.6 750.1,340.8 753.9,330.0 C757.7,319.2 762.4,308.7 765.6,300.0 C768.8,291.3 770.5,285.2 773.3,277.8 C776.1,270.4 779.4,263.0 782.2,255.6 C785.0,248.2 787.2,240.7 790.0,233.3 C792.8,225.9 795.8,218.5 798.9,211.1 C802.0,203.7 805.4,195.9 808.9,188.9 C812.4,181.9 815.8,175.4 820.0,168.9 C824.2,162.4 829.2,155.9 834.4,150.0 C839.6,144.1 845.5,137.9 851.1,133.3 C856.7,128.7 862.2,125.2 867.8,122.2 C873.3,119.2 878.3,117.0 884.4,115.6 C890.5,114.2 901.1,114.2 904.4,113.9 L897.0,164.0 C894.5,164.6 886.5,165.5 882.2,167.8 C877.9,170.1 875.0,173.4 871.1,177.8 C867.2,182.2 862.8,188.9 858.9,194.4 C855.0,199.9 851.3,204.6 847.8,211.1 C844.3,217.6 840.9,225.9 837.8,233.3 C834.6,240.7 831.9,248.2 828.9,255.6 C825.9,263.0 823.0,270.4 820.0,277.8 C817.0,285.2 814.7,291.3 811.1,300.0 C807.5,308.7 802.3,319.2 798.3,330.0 C794.3,340.8 790.7,354.3 787.2,364.7 C783.7,375.1 780.7,383.2 777.5,392.5 C774.3,401.8 771.0,411.1 767.8,420.3 C764.5,429.6 761.2,438.8 758.0,448.0 C754.8,457.2 751.8,465.8 748.3,475.8 C744.8,485.8 740.9,497.4 737.2,507.8 C733.5,518.2 729.8,526.6 726.1,538.3 C722.4,550.0 717.8,567.7 715.0,578.0 C712.2,588.3 712.7,588.5 709.3,600.0 C705.9,611.5 699.4,632.2 694.7,646.7 C690.0,661.2 685.8,673.4 681.3,686.7 C676.8,700.0 672.4,713.4 668.0,726.7 C663.6,740.0 658.8,754.8 654.7,766.7 C650.6,778.6 648.0,784.7 643.3,798.3 C638.6,811.9 632.2,832.2 626.7,848.3 C621.2,864.4 614.2,883.0 610.0,895.0 C605.8,907.0 605.0,910.8 601.7,920.0 C598.4,929.2 594.7,939.5 590.0,950.0 C585.3,960.5 579.4,971.1 573.3,983.3 C567.2,995.5 560.0,1011.6 553.3,1023.3 C546.6,1035.0 540.0,1043.0 533.3,1053.3 C526.6,1063.6 516.6,1079.7 513.3,1085.0 L513.3,1085.0 C517.2,1085.3 527.2,1085.3 536.7,1086.7 C546.2,1088.1 558.9,1090.0 570.0,1093.3 C581.1,1096.6 592.2,1101.4 603.3,1106.7 C614.4,1112.0 627.0,1118.6 636.7,1125.0 C646.4,1131.4 653.4,1138.0 661.7,1145.0 C670.0,1152.0 679.8,1159.8 686.7,1166.7 C693.6,1173.7 699.1,1180.7 703.3,1186.7 C707.5,1192.8 709.5,1198.6 712.0,1203.0 C714.5,1207.4 717.0,1211.3 718.0,1213.0 Z" fill="none" stroke="#7d8184" stroke-width="5" opacity="0.6"/>
</g>
<path d="M664.0,1236.0 C662.5,1232.5 657.7,1220.5 655.0,1215.0 C652.3,1209.5 651.0,1206.9 648.0,1203.3 C645.0,1199.7 642.8,1197.2 636.7,1193.3 C630.7,1189.4 620.0,1185.3 611.7,1180.0 C603.4,1174.7 596.4,1167.2 586.7,1161.7 C577.0,1156.2 564.4,1150.6 553.3,1146.7 C542.2,1142.8 531.1,1140.0 520.0,1138.3 C508.9,1136.6 496.4,1136.1 486.7,1136.7 C477.0,1137.3 468.4,1141.5 462.0,1142.0 C455.6,1142.5 452.2,1141.7 448.3,1140.0 C444.4,1138.3 440.7,1135.0 438.3,1131.7 C435.9,1128.4 434.6,1123.9 434.2,1120.0 C433.8,1116.1 434.0,1112.5 435.8,1108.3 C437.6,1104.1 440.1,1100.0 445.0,1095.0 C449.9,1090.0 458.6,1084.7 465.0,1078.3 C471.4,1071.9 476.9,1065.3 483.3,1056.7 C489.7,1048.1 497.2,1036.2 503.3,1026.7 C509.4,1017.2 515.0,1008.6 520.0,1000.0 C525.0,991.4 528.8,984.2 533.3,975.0 C537.8,965.8 542.6,954.5 546.7,945.0 C550.8,935.5 554.1,927.2 558.0,918.0 C561.9,908.8 565.2,901.6 570.0,890.0 C574.8,878.4 580.8,863.3 586.7,848.3 C592.6,833.3 600.9,813.6 605.3,800.0 C609.7,786.4 609.7,778.9 613.3,766.7 C616.9,754.5 622.2,740.0 626.7,726.7 C631.2,713.4 635.6,700.0 640.0,686.7 C644.4,673.4 648.8,661.2 653.3,646.7 C657.8,632.2 662.2,614.6 666.7,600.0 C671.2,585.4 676.2,571.8 680.3,559.2 C684.4,546.6 687.7,536.0 691.4,524.4 C695.1,512.8 698.8,500.8 702.5,489.7 C706.2,478.6 710.1,468.2 713.6,457.8 C717.1,447.4 720.0,437.4 723.3,427.2 C726.5,417.0 729.9,407.1 733.1,396.7 C736.4,386.3 739.3,375.8 742.8,364.7 C746.3,353.6 750.1,340.8 753.9,330.0 C757.7,319.2 762.4,308.7 765.6,300.0 C768.8,291.3 770.5,285.2 773.3,277.8 C776.1,270.4 779.4,263.0 782.2,255.6 C785.0,248.2 787.2,240.7 790.0,233.3 C792.8,225.9 795.8,218.5 798.9,211.1 C802.0,203.7 805.4,195.9 808.9,188.9 C812.4,181.9 815.8,175.4 820.0,168.9 C824.2,162.4 829.2,155.9 834.4,150.0 C839.6,144.1 845.5,137.9 851.1,133.3 C856.7,128.7 862.2,125.2 867.8,122.2 C873.3,119.2 878.3,117.0 884.4,115.6 C890.5,114.2 901.1,114.2 904.4,113.9 L897.0,164.0 C894.5,164.6 886.5,165.5 882.2,167.8 C877.9,170.1 875.0,173.4 871.1,177.8 C867.2,182.2 862.8,188.9 858.9,194.4 C855.0,199.9 851.3,204.6 847.8,211.1 C844.3,217.6 840.9,225.9 837.8,233.3 C834.6,240.7 831.9,248.2 828.9,255.6 C825.9,263.0 823.0,270.4 820.0,277.8 C817.0,285.2 814.7,291.3 811.1,300.0 C807.5,308.7 802.3,319.2 798.3,330.0 C794.3,340.8 790.7,354.3 787.2,364.7 C783.7,375.1 780.7,383.2 777.5,392.5 C774.3,401.8 771.0,411.1 767.8,420.3 C764.5,429.6 761.2,438.8 758.0,448.0 C754.8,457.2 751.8,465.8 748.3,475.8 C744.8,485.8 740.9,497.4 737.2,507.8 C733.5,518.2 729.8,526.6 726.1,538.3 C722.4,550.0 717.8,567.7 715.0,578.0 C712.2,588.3 712.7,588.5 709.3,600.0 C705.9,611.5 699.4,632.2 694.7,646.7 C690.0,661.2 685.8,673.4 681.3,686.7 C676.8,700.0 672.4,713.4 668.0,726.7 C663.6,740.0 658.8,754.8 654.7,766.7 C650.6,778.6 648.0,784.7 643.3,798.3 C638.6,811.9 632.2,832.2 626.7,848.3 C621.2,864.4 614.2,883.0 610.0,895.0 C605.8,907.0 605.0,910.8 601.7,920.0 C598.4,929.2 594.7,939.5 590.0,950.0 C585.3,960.5 579.4,971.1 573.3,983.3 C567.2,995.5 560.0,1011.6 553.3,1023.3 C546.6,1035.0 540.0,1043.0 533.3,1053.3 C526.6,1063.6 516.6,1079.7 513.3,1085.0 L513.3,1085.0 C517.2,1085.3 527.2,1085.3 536.7,1086.7 C546.2,1088.1 558.9,1090.0 570.0,1093.3 C581.1,1096.6 592.2,1101.4 603.3,1106.7 C614.4,1112.0 627.0,1118.6 636.7,1125.0 C646.4,1131.4 653.4,1138.0 661.7,1145.0 C670.0,1152.0 679.8,1159.8 686.7,1166.7 C693.6,1173.7 699.1,1180.7 703.3,1186.7 C707.5,1192.8 709.5,1198.6 712.0,1203.0 C714.5,1207.4 717.0,1211.3 718.0,1213.0 Z" fill="none" stroke="#8a8e91" stroke-width="1.2"/>
<path d="M906.0,114.0 C908.3,113.5 914.3,110.7 920.0,111.0 C925.7,111.3 933.7,112.8 940.0,116.0 C946.3,119.2 953.3,125.3 957.8,130.0 C962.2,134.7 960.8,136.8 966.7,144.2 C972.6,151.6 985.9,164.9 993.3,174.4 C1000.7,183.9 1005.8,191.9 1011.1,201.1 C1016.4,210.3 1021.8,222.2 1025.3,229.6 C1028.8,237.0 1030.0,242.0 1032.4,245.6 C1034.8,249.2 1038.0,248.5 1039.6,250.9 C1041.2,253.3 1041.3,255.8 1042.2,259.8 C1043.1,263.8 1043.1,268.5 1045.0,275.0 C1046.9,281.5 1051.8,291.9 1053.8,298.9 C1055.8,305.8 1056.4,309.3 1057.3,316.7 C1058.2,324.1 1057.9,332.9 1059.1,343.3 C1060.3,353.7 1062.6,367.0 1064.4,378.9 C1066.2,390.8 1068.3,405.5 1069.8,414.4 C1071.3,423.2 1072.9,429.1 1073.5,432.0 L1029.0,432.0 C1028.7,429.1 1028.0,423.2 1027.1,414.4 C1026.2,405.5 1024.8,390.8 1023.6,378.9 C1022.4,367.0 1021.2,353.7 1020.0,343.3 C1018.8,332.9 1017.9,325.0 1016.4,316.7 C1014.9,308.4 1013.8,301.6 1011.1,293.6 C1008.4,285.6 1004.0,276.7 1000.4,268.7 C996.8,260.7 993.9,253.3 989.8,245.6 C985.7,237.9 980.9,230.4 975.6,222.4 C970.3,214.4 963.7,204.5 957.8,197.6 C951.9,190.7 945.3,183.9 940.0,181.0 C934.7,178.1 933.0,182.5 926.0,180.0 C919.0,177.5 903.3,175.3 898.0,166.0 C892.7,156.7 894.7,131.0 894.0,124.0 Z" fill="#464b4d"/>
<path d="M894.0,124.0 C895.3,115.3 901.7,116.2 906.0,114.0 C910.3,111.8 914.3,110.7 920.0,111.0 C925.7,111.3 933.0,111.8 940.0,116.0 C947.0,120.2 960.3,128.7 962.0,136.0 C963.7,143.3 954.3,152.2 950.0,160.0 C945.7,167.8 940.0,179.7 936.0,183.0 C932.0,186.3 932.3,182.8 926.0,180.0 C919.7,177.2 903.3,175.3 898.0,166.0 C892.7,156.7 892.7,132.7 894.0,124.0 Z" fill="#44494b"/>
<path d="M921,124 C930,136 934,160 933,181" fill="none" stroke="#555a5d" stroke-width="2.5"/>
<path d="M928,126 C937,138 940,160 938,182" fill="none" stroke="#383c3e" stroke-width="1.2"/>
<ellipse cx="896" cy="140" rx="1.5" ry="2.5" fill="#2a2e30"/>
<path d="M962,160 C990,195 1012,238 1032,285 C1042,315 1048,360 1052,425" fill="none" stroke="#4f5457" stroke-width="12" stroke-linecap="round" opacity="0.6"/>
<path d="M1012.0,263.0 L1038.0,258.0" stroke="#32373a" stroke-width="1.6"/>
<path d="M1014.2,270.5 L1039.6,265.5" stroke="#32373a" stroke-width="1.6"/>
<path d="M1016.4,278.0 L1041.2,273.0" stroke="#32373a" stroke-width="1.6"/>
<path d="M1018.6,285.5 L1042.8,280.5" stroke="#32373a" stroke-width="1.6"/>
<path d="M1000,262 C1012,256 1026,250 1036,247" fill="none" stroke="#34393b" stroke-width="1.5"/>
<path d="M1020,292 C1026,287 1035,288 1038,296 L1038,316 C1033,320 1025,318 1022,312 Z" fill="#33383a" stroke="#4c5254" stroke-width="1"/>
<path d="M1014,327 L1058,325" stroke="#33373a" stroke-width="1.6"/>
<path d="M1023,365 L1030,364 M1025,374 L1040,373 M1026,388 L1032,387" stroke="#32373a" stroke-width="1.3"/>
<g transform="translate(1050.5,424) rotate(-8.70)">
<rect x="-23.5" y="4" width="47" height="482" fill="url(#metal)"/>
<rect x="-23.5" y="0" width="47" height="8" fill="#5d6265"/>
<rect x="-23.5" y="6" width="47" height="2" fill="#45494b"/>
<path d="M-23.5,484 C-23.5,492 -22,494 -21,498 L-21,566 L23,566 L23,498 C24,494 23.5,492 23.5,484 Z" fill="url(#metal)"/>
<rect x="5" y="517" width="22" height="47" rx="2" fill="#50575a"/>
<ellipse cx="16" cy="519" rx="11" ry="5" fill="#33393b"/>
<rect x="-21.5" y="563" width="46" height="8" rx="3" fill="#474d50"/>
<rect x="-20.5" y="571" width="41" height="230" fill="url(#metal2)"/>
<ellipse cx="3" cy="590.0" rx="7.5" ry="2.4" fill="#d9dcde" stroke="#8a9094" stroke-width="0.8"/>
<ellipse cx="3" cy="614.8" rx="7.5" ry="2.4" fill="#d9dcde" stroke="#8a9094" stroke-width="0.8"/>
<ellipse cx="3" cy="639.6" rx="7.5" ry="2.4" fill="#d9dcde" stroke="#8a9094" stroke-width="0.8"/>
<ellipse cx="3" cy="664.4" rx="7.5" ry="2.4" fill="#d9dcde" stroke="#8a9094" stroke-width="0.8"/>
<ellipse cx="3" cy="689.2" rx="7.5" ry="2.4" fill="#d9dcde" stroke="#8a9094" stroke-width="0.8"/>
<ellipse cx="3" cy="714.0" rx="7.5" ry="2.4" fill="#d9dcde" stroke="#8a9094" stroke-width="0.8"/>
<ellipse cx="3" cy="738.8" rx="7.5" ry="2.4" fill="#d9dcde" stroke="#8a9094" stroke-width="0.8"/>
<ellipse cx="3" cy="763.6" rx="7.5" ry="2.4" fill="#d9dcde" stroke="#8a9094" stroke-width="0.8"/>
</g>
<path d="M1150.2,1217.0 C1153.7,1216.3 1189.8,1213.5 1193.8,1217.0 C1197.8,1220.5 1197.6,1254.3 1198.4,1259.1 C1199.2,1263.9 1201.8,1272.4 1203.1,1274.7 C1204.4,1277.0 1212.4,1285.0 1214.0,1287.1 C1215.6,1289.2 1222.9,1297.3 1222.0,1300.0 C1221.1,1302.7 1206.4,1317.9 1203.0,1320.0 C1199.6,1322.1 1184.4,1326.7 1181.3,1325.0 C1178.2,1323.3 1167.5,1303.3 1165.8,1299.6 C1164.1,1295.9 1162.3,1287.1 1161.1,1280.9 C1159.9,1274.7 1152.7,1230.2 1151.8,1224.9 C1150.9,1219.6 1146.7,1217.7 1150.2,1217.0 Z" fill="#2f3335"/>
<path d="M1158,1226 C1162,1250 1166,1275 1172,1298" fill="none" stroke="#3d4244" stroke-width="7" opacity="0.8"/>
<path d="M1150.0,1215.0 L1158.0,1211.0 L1186.0,1210.0 L1194.0,1213.0 L1194.0,1224.0 L1150.5,1226.0 Z" fill="#25292b"/>
<path d="M1143.2,1221.0 L1151.0,1219.0 L1158.0,1276.0 L1150.0,1277.0 Z" fill="#2a2e30"/>
<path d="M1166,1300 C1180,1294 1200,1290 1214,1287" fill="none" stroke="#1e2122" stroke-width="1.5"/>
<path d="M1158.0,1342.0 L1242.0,1288.0 L1247.0,1291.0 L1204.0,1320.0 L1197.0,1338.0 L1186.0,1345.0 L1166.0,1350.0 Z" fill="#2a2e30"/>
<path d="M1158,1342 L1206,1314 L1208,1362 L1180,1374 L1160,1372 Z" fill="#272b2d"/>
<circle cx="1170.4" cy="1360.2" r="15" fill="#25292b"/><circle cx="1168" cy="1361" r="9" fill="#34393b"/><circle cx="1168" cy="1361" r="4" fill="#1c1f20"/>
<path d="M1146.3,1410.0 L1146.3,1421.0 L1150.2,1430.2 L1176.7,1442.7 L1198.4,1456.7 L1217.1,1462.9 L1226.0,1459.0 L1381.2,1347.8 L1383.0,1332.0 L1379.0,1324.4 L1316.7,1285.6 L1304.2,1283.2 L1280.0,1290.0 L1279.3,1299.6 L1265.3,1307.3 L1259.1,1307.3 L1242.0,1289.4 L1222.0,1300.0 L1202.0,1317.0 L1196.0,1338.0 L1204.0,1356.0 L1181.0,1371.0 L1153.3,1383.6 L1147.1,1398.0 Z" fill="url(#nozG)" stroke="#3c4143" stroke-width="1.5" stroke-linejoin="round"/>
<path d="M1146.3,1412.0 L1146.3,1421.0 L1150.2,1430.2 L1176.7,1442.7 L1198.4,1456.7 L1217.1,1462.9 L1226.0,1459.0 L1381.2,1347.8 L1382.0,1338.0 L1225.0,1450.0 L1216.0,1453.0 L1199.0,1447.0 L1178.0,1433.0 L1152.0,1420.0 Z" fill="#393e40"/>
<path d="M1152,1420 L1178,1433 L1199,1447 L1216,1453 L1225,1450 L1382,1338" fill="none" stroke="#555b5e" stroke-width="1.2"/>
<path d="M1149,1402 C1152,1393 1158,1387 1170,1383 L1205,1370" fill="none" stroke="#52585b" stroke-width="1.2"/>
<path d="M1203,1318 C1215,1330 1225,1345 1232,1362 C1238,1375 1242,1382 1248,1388" fill="none" stroke="#51575a" stroke-width="2"/>
<path d="M1259,1307 C1268,1318 1285,1330 1310,1338 L1326,1341" fill="none" stroke="#4c5254" stroke-width="1.6"/>
<path d="M1279.0,1298.0 L1303.0,1283.0 L1339.0,1318.0 L1318.0,1334.0 Z" fill="#2d3133" stroke="#23272a" stroke-width="1"/>
<path d="M1279.0,1298.0 L1303.0,1283.0 L1309.0,1289.0 L1285.0,1303.0 Z" fill="#3a3f41"/>
<path d="M1290.5,1308.2 L1314.0,1293.8" stroke="#25292b" stroke-width="0.8"/>
<path d="M1296.0,1313.3 L1319.0,1298.7" stroke="#25292b" stroke-width="0.8"/>
<path d="M1301.5,1318.5 L1324.0,1303.5" stroke="#25292b" stroke-width="0.8"/>
<path d="M1307.0,1323.7 L1329.0,1308.3" stroke="#25292b" stroke-width="0.8"/>
<path d="M1312.5,1328.8 L1334.0,1313.2" stroke="#25292b" stroke-width="0.8"/>
<path d="M-32.5,0 A32.5,10 0 0 0 32.5,0" transform="translate(691.3 1219) rotate(-22.3)" fill="none" stroke="#23272a" stroke-width="5"/>
<path d="M-30,4 A32.5,10 0 0 0 30,4" transform="translate(691.3 1219) rotate(-22.3)" fill="none" stroke="#3b4042" stroke-width="1.5"/>
</g>
<g id="icons" fill="none" stroke="#111" stroke-width="1.8" stroke-linecap="round" stroke-linejoin="round">
<path d="M909.9,573.2 C910.4,574.9 912.1,580.0 912.8,583.7 C913.6,587.4 914.2,590.7 914.6,595.3 C915.0,600.0 915.2,606.4 915.2,611.7 C915.2,616.9 914.6,622.6 914.6,626.8 C914.6,631.1 914.8,634.7 915.2,637.3 C915.6,640.0 916.6,641.7 916.9,642.6"/>
<path d="M936.2,573.2 C936.5,575.3 937.1,581.5 937.9,586.0 C938.7,590.5 939.8,597.1 940.8,600.0 C941.9,602.9 943.0,602.3 944.3,603.5 C945.7,604.7 947.4,605.4 949.0,607.0 C950.6,608.6 952.1,610.9 953.7,612.8 C955.2,614.8 957.3,616.9 958.3,618.7 C959.4,620.4 959.5,621.4 960.1,623.3 C960.7,625.3 961.3,628.0 961.8,630.3 C962.4,632.7 963.0,634.8 963.6,637.3 C964.2,639.9 965.0,644.1 965.3,645.5"/>
<path d="M953.7,623.3 C953.6,624.9 953.2,630.3 953.4,632.7 C953.6,635.0 954.2,635.8 954.8,637.3 C955.5,638.9 956.3,640.5 957.2,642.0 C958.0,643.5 959.6,645.4 960.1,646.1"/>
<path d="M951.9,633.3 C951.8,634.3 951.3,637.9 951.1,639.7 C950.9,641.4 950.8,643.1 950.8,643.8"/>
<path d="M915.2,642.6 C915.9,643.0 918.5,644.7 919.8,644.9 C921.2,645.2 922.2,644.0 923.3,644.1 C924.5,644.2 925.7,645.4 926.8,645.5 C928.0,645.6 929.2,644.5 930.3,644.6 C931.5,644.6 932.7,645.7 933.8,645.7 C935.0,645.8 936.2,644.7 937.3,644.7 C938.5,644.6 939.5,645.5 940.8,645.5 C942.2,645.5 943.9,644.8 945.5,644.6 C947.2,644.4 949.9,644.4 950.8,644.3"/>
<path d="M914.0,644.3 C915.6,645.0 920.0,647.3 923.3,648.1 C926.6,648.9 930.3,649.2 933.8,649.2 C937.3,649.2 941.0,648.8 944.3,648.1 C947.6,647.4 952.1,645.4 953.7,644.9"/>
<rect x="898.8" y="635.0" width="10.5" height="7.6" rx="1.5"/>
<rect x="964.8" y="635.0" width="3.7" height="7.6" rx="1"/>
<path d="M886.0,650.8 C887.6,649.9 890.7,646.6 895.3,645.5 C900.0,644.4 910.9,644.5 914.0,644.3"/>
<path d="M964.2,646.7 C965.5,646.8 970.1,646.5 972.3,647.3 C974.6,648.0 976.7,650.7 977.6,651.3"/>
<path d="M887.2,649.6 C889.3,649.1 895.5,647.4 900.0,646.7 C904.5,646.0 911.7,645.7 914.0,645.5"/>
<path d="M895.3,642.0 C893.6,643.4 887.9,645.5 884.8,650.2 C881.7,654.8 878.6,662.8 876.7,670.0 C874.7,677.2 873.8,685.6 873.2,693.3 C872.6,701.1 872.4,709.9 873.2,716.7 C873.9,723.5 875.3,728.3 877.8,734.2 C880.4,740.0 884.6,747.2 888.3,751.7 C892.0,756.1 896.8,759.1 900.0,761.0 C903.2,763.0 906.3,763.0 907.6,763.3"/>
<path d="M957.2,763.3 C958.9,763.0 964.4,763.0 967.7,761.0 C971.0,759.1 973.9,756.1 977.0,751.7 C980.1,747.2 984.0,740.0 986.3,734.2 C988.7,728.3 990.0,723.5 991.0,716.7 C992.0,709.9 992.6,701.1 992.2,693.3 C991.8,685.6 990.6,676.6 988.7,670.0 C986.7,663.4 983.2,657.8 980.5,653.7 C977.8,649.6 974.3,647.4 972.3,645.5 C970.4,643.6 969.4,642.6 968.8,642.0"/>
<path d="M907.6,766.3 L907.6,762.2 L957.2,762.2 L957.2,766.3"/>
<path d="M886.0,651.3 C885.9,654.4 884.8,663.8 885.4,670.0 C886.0,676.2 887.3,683.2 889.5,688.7 C891.7,694.1 894.8,698.8 898.8,702.7 C902.9,706.6 908.2,709.9 914.0,712.0 C919.8,714.1 927.2,715.5 933.8,715.5 C940.4,715.5 947.8,714.1 953.7,712.0 C959.5,709.9 964.9,706.6 968.8,702.7 C972.7,698.8 975.3,694.1 977.0,688.7 C978.8,683.2 979.2,676.2 979.3,670.0 C979.4,663.8 977.9,654.4 977.6,651.3"/>
<ellipse cx="933.8" cy="684.6" rx="20.4" ry="15.9"/>
<ellipse cx="933.8" cy="683.1" rx="11.7" ry="8.5"/>
<path d="M873.8,714.3 C875.2,716.3 878.1,721.9 882.5,726.0 C886.9,730.1 894.2,735.6 900.0,738.8 C905.8,742.1 911.9,744.0 917.5,745.3 C923.1,746.5 928.0,746.6 933.8,746.4 C939.7,746.2 946.5,745.6 952.5,744.1 C958.5,742.6 965.1,740.3 970.0,737.7 C974.9,735.1 978.4,731.8 981.7,728.3 C985.0,724.8 988.5,718.6 989.8,716.7"/>
<rect x="912.8" y="734.8" width="41.5" height="18" rx="6"/>
<path d="M1184.9,693.3 C1192.6,697.2 1222.8,712.7 1231.3,716.8 C1239.9,720.9 1232.6,717.0 1236.2,718.0 C1239.9,719.0 1248.0,720.9 1253.3,722.9 C1258.6,724.9 1263.9,727.8 1268.0,730.2 C1272.1,732.7 1274.9,734.5 1277.8,737.6 C1280.6,740.6 1283.3,745.5 1285.1,748.6 C1286.9,751.6 1287.6,753.4 1288.8,755.9 C1290.0,758.3 1291.4,761.0 1292.4,763.2 C1293.5,765.5 1294.5,768.3 1294.9,769.3"/>
<path d="M1269.2,731.4 C1271.7,732.5 1280.0,735.5 1283.9,737.6 C1287.8,739.6 1289.6,742.2 1292.4,743.7 C1295.3,745.1 1299.4,745.1 1301.0,746.1 C1302.6,747.1 1302.4,748.6 1302.2,749.8 C1302.0,751.0 1300.8,752.7 1299.8,753.4 C1298.8,754.2 1297.9,753.9 1296.1,754.1 C1294.3,754.3 1290.0,754.6 1288.8,754.7"/>
<path d="M1184.3,749.2 C1186.6,749.9 1193.7,751.1 1198.3,753.4 C1202.9,755.8 1208.7,760.4 1211.8,763.2 C1214.8,766.1 1214.4,767.9 1216.7,770.6 C1218.9,773.2 1221.6,776.3 1225.2,779.1 C1228.9,782.0 1234.9,785.9 1238.7,787.7 C1242.4,789.5 1245.4,790.1 1247.8,789.9 C1250.3,789.7 1252.4,787.0 1253.3,786.4"/>
<path d="M1253.3,786.4 C1253.9,786.2 1255.8,785.3 1257.0,785.2 C1258.2,785.1 1259.2,786.4 1260.7,785.8 C1262.1,785.2 1264.7,782.3 1265.6,781.6"/>
<path d="M1265.6,781.6 C1266.4,781.3 1268.8,780.4 1270.4,780.3 C1272.1,780.2 1273.7,781.8 1275.3,780.9 C1277.0,780.1 1279.4,776.4 1280.2,775.4"/>
<path d="M1280.2,775.4 C1281.0,775.6 1283.5,776.5 1285.1,776.4 C1286.7,776.3 1288.5,775.8 1290.0,774.8 C1291.5,773.9 1293.5,771.9 1294.3,770.6 C1295.1,769.2 1294.8,767.5 1294.9,766.9"/>
<path d="M1290.6,758.3 C1293.6,759.8 1300.3,764.9 1308.3,767.1 C1316.4,769.4 1329.7,771.8 1338.9,772.0 C1348.1,772.2 1354.5,770.3 1363.3,768.5 C1372.2,766.6 1387.3,762.1 1392.1,760.8" stroke-width="8.2"/>
<path d="M1290.6,758.3 C1293.6,759.8 1300.3,764.9 1308.3,767.1 C1316.4,769.4 1329.7,771.8 1338.9,772.0 C1348.1,772.2 1354.5,770.3 1363.3,768.5 C1372.2,766.6 1387.3,762.1 1392.1,760.8" stroke="#fff" stroke-width="4.6"/>
<path d="M1246,824.9 L1393,824.9" stroke-width="2"/>
<path d="M1238.7,824.9 L1248.5,819.6 L1248.5,830.2 Z" fill="#111"/>
<path d="M1401.5,824.9 L1391.7,819.6 L1391.7,830.2 Z" fill="#111"/>
<path d="M1388.5,703.5 C1394.3,702.2 1414.0,697.4 1423.3,696.1 C1432.7,694.8 1435.6,694.9 1444.4,695.6 C1453.2,696.2 1465.6,698.0 1476.1,699.8 C1486.7,701.5 1499.0,703.8 1507.8,706.1 C1516.6,708.4 1524.0,710.9 1528.9,713.5 C1533.8,716.1 1535.4,718.8 1537.3,721.9 C1539.3,725.1 1539.9,729.5 1540.5,732.5 C1541.1,735.5 1540.9,738.7 1541.0,739.9"/>
<path d="M1389.6,705.6 C1396.9,707.3 1421.2,713.1 1433.9,715.6 C1446.6,718.2 1457.6,719.8 1465.6,720.9 C1473.5,721.9 1476.1,722.3 1481.4,721.9 C1486.7,721.6 1490.9,720.0 1497.2,718.8 C1503.6,717.5 1515.7,715.3 1519.4,714.6"/>
<path d="M1388.5,703.5 L1389.6,705.6"/>
<path d="M1519.4,714.6 C1520.3,715.8 1523.4,719.3 1524.7,721.9 C1525.9,724.6 1526.3,727.2 1526.8,730.4 C1527.2,733.6 1526.2,738.9 1527.3,740.9 C1528.4,743.0 1531.1,742.7 1533.1,742.5 C1535.1,742.3 1538.1,740.3 1539.4,739.9 C1540.8,739.4 1540.8,739.9 1541.0,739.9"/>
<path d="M1541.0,739.9 C1540.9,741.3 1540.8,745.3 1540.5,748.3 C1540.2,751.3 1540.3,755.0 1539.4,757.8 C1538.6,760.6 1536.3,762.4 1535.2,765.2 C1534.2,768.0 1534.2,771.2 1533.1,774.7 C1532.0,778.2 1529.9,783.9 1528.9,786.3 C1527.8,788.8 1527.1,789.0 1526.8,789.5"/>
<path d="M1389.6,705.6 C1388.7,705.9 1386.2,705.5 1384.3,707.7 C1382.3,709.9 1379.5,714.5 1377.9,718.8 C1376.4,723.1 1375.7,728.6 1374.8,733.6 C1373.9,738.5 1373.1,742.3 1372.7,748.3 C1372.2,754.3 1372.0,764.2 1372.1,769.4 C1372.3,774.7 1372.2,777.0 1373.7,780.0 C1375.2,783.0 1377.2,785.3 1381.1,787.4 C1385.0,789.5 1394.3,791.8 1396.9,792.7"/>
<path d="M1396.9,792.7 L1479.3,818.0"/>
<path d="M1373.7,736.7 C1372.5,738.7 1367.7,743.8 1366.3,748.3 C1364.9,752.9 1364.9,758.9 1365.3,764.2 C1365.6,769.4 1366.7,775.6 1368.4,780.0 C1370.2,784.4 1372.8,787.9 1375.8,790.6 C1378.8,793.2 1383.0,795.3 1386.4,795.8 C1389.7,796.4 1394.3,794.1 1395.9,793.7"/>
<path d="M1378.5,743.6 L1400.6,749.4 L1400.6,779.5 L1378.5,773.1 Z" fill="#fff"/>
<path d="M1363.3,768.5 L1392.1,760.8" stroke-width="8.2"/>
<path d="M1363.3,768.5 L1392.1,760.8" stroke="#fff" stroke-width="4.6"/>
<ellipse cx="1505" cy="784.5" rx="25" ry="50" transform="rotate(12 1505 784.5)" fill="#fff"/>
<path d="M1507.8,734.6 C1509.5,735.0 1515.5,735.8 1518.3,736.7 C1521.1,737.6 1522.7,737.1 1524.7,739.9 C1526.6,742.7 1529.2,747.8 1529.9,753.6 C1530.6,759.4 1529.4,768.7 1528.9,774.7 C1528.4,780.7 1527.1,787.0 1526.8,789.5"/>
<ellipse cx="1507.8" cy="785.5" rx="16.5" ry="40" transform="rotate(12 1507.8 785.5)"/>
<path d="M1508.8,786.3 L1512.0,755.7" stroke-width="4.4" stroke-linecap="butt"/>
<path d="M1508.8,786.3 L1520.4,769.4" stroke-width="4.4" stroke-linecap="butt"/>
<path d="M1508.8,786.3 L1512.0,808.5" stroke-width="4.4" stroke-linecap="butt"/>
<path d="M1508.8,786.3 L1498.3,809.6" stroke-width="4.4" stroke-linecap="butt"/>
<path d="M1508.8,786.3 L1498.3,775.8" stroke-width="4.4" stroke-linecap="butt"/>
<path d="M1508.8,786.3 L1512.0,755.7" stroke="#fff" stroke-width="1.4" stroke-linecap="butt"/>
<path d="M1508.8,786.3 L1520.4,769.4" stroke="#fff" stroke-width="1.4" stroke-linecap="butt"/>
<path d="M1508.8,786.3 L1512.0,808.5" stroke="#fff" stroke-width="1.4" stroke-linecap="butt"/>
<path d="M1508.8,786.3 L1498.3,809.6" stroke="#fff" stroke-width="1.4" stroke-linecap="butt"/>
<path d="M1508.8,786.3 L1498.3,775.8" stroke="#fff" stroke-width="1.4" stroke-linecap="butt"/>
</g>
<g id="leaders">
<path d="M352,388.5 L714,388.5" fill="none" stroke="#fff" stroke-width="13" stroke-linejoin="miter"/>
<path d="M1052.5,282.5 L1423,282.5" fill="none" stroke="#fff" stroke-width="13" stroke-linejoin="miter"/>
<path d="M1098.6,546.4 L1613.4,546.4" fill="none" stroke="#fff" stroke-width="13" stroke-linejoin="miter"/>
<path d="M675,849 L938.5,849 L938.5,1181" fill="none" stroke="#fff" stroke-width="13" stroke-linejoin="miter"/>
<path d="M1594.8,933 L1094.5,933 L1031,1235" fill="none" stroke="#fff" stroke-width="13" stroke-linejoin="miter"/>
<path d="M568,1077 L832,1077 L832,1143" fill="none" stroke="#fff" stroke-width="13" stroke-linejoin="miter"/>
<path d="M67,1185 L772.9,1185 L772.9,1214" fill="none" stroke="#fff" stroke-width="13" stroke-linejoin="miter"/>
<path d="M262.7,1452 L655,1451.5" fill="none" stroke="#fff" stroke-width="13" stroke-linejoin="miter"/>
<path d="M805,1663 L1021.6,1663 L1021.6,1473" fill="none" stroke="#fff" stroke-width="13" stroke-linejoin="miter"/>
<path d="M1755.2,1580 L1210,1580 L1210.5,1472" fill="none" stroke="#fff" stroke-width="13" stroke-linejoin="miter"/>
<circle cx="714" cy="388.5" r="16.6" fill="#fff"/>
<circle cx="1052.5" cy="282.5" r="16.6" fill="#fff"/>
<circle cx="1098.6" cy="546.4" r="16.6" fill="#fff"/>
<circle cx="938.5" cy="1181" r="17.6" fill="#fff"/>
<circle cx="1031" cy="1235" r="16.6" fill="#fff"/>
<circle cx="832.7" cy="1143" r="18.1" fill="#fff"/>
<circle cx="772.8" cy="1213.9" r="16.1" fill="#fff"/>
<circle cx="655" cy="1451" r="16.6" fill="#fff"/>
<circle cx="1021.4" cy="1472.7" r="16.6" fill="#fff"/>
<circle cx="1210.6" cy="1472" r="16.6" fill="#fff"/>
<path d="M352,388.5 L714,388.5" fill="none" stroke="#EF7134" stroke-width="7.8" stroke-linejoin="miter"/>
<path d="M1052.5,282.5 L1423,282.5" fill="none" stroke="#EF7134" stroke-width="7.8" stroke-linejoin="miter"/>
<path d="M1098.6,546.4 L1613.4,546.4" fill="none" stroke="#EF7134" stroke-width="7.8" stroke-linejoin="miter"/>
<path d="M675,849 L938.5,849 L938.5,1181" fill="none" stroke="#EF7134" stroke-width="7.8" stroke-linejoin="miter"/>
<path d="M1594.8,933 L1094.5,933 L1031,1235" fill="none" stroke="#EF7134" stroke-width="7.8" stroke-linejoin="miter"/>
<path d="M568,1077 L832,1077 L832,1143" fill="none" stroke="#EF7134" stroke-width="7.8" stroke-linejoin="miter"/>
<path d="M67,1185 L772.9,1185 L772.9,1214" fill="none" stroke="#EF7134" stroke-width="7.8" stroke-linejoin="miter"/>
<path d="M262.7,1452 L655,1451.5" fill="none" stroke="#EF7134" stroke-width="7.8" stroke-linejoin="miter"/>
<path d="M805,1663 L1021.6,1663 L1021.6,1473" fill="none" stroke="#EF7134" stroke-width="7.8" stroke-linejoin="miter"/>
<path d="M1755.2,1580 L1210,1580 L1210.5,1472" fill="none" stroke="#EF7134" stroke-width="7.8" stroke-linejoin="miter"/>
<circle cx="714" cy="388.5" r="15" fill="#EF7134"/>
<circle cx="1052.5" cy="282.5" r="15" fill="#EF7134"/>
<circle cx="1098.6" cy="546.4" r="15" fill="#EF7134"/>
<circle cx="938.5" cy="1181" r="16" fill="#EF7134"/>
<circle cx="1031" cy="1235" r="15" fill="#EF7134"/>
<circle cx="832.7" cy="1143" r="16.5" fill="#EF7134"/>
<circle cx="772.8" cy="1213.9" r="14.5" fill="#EF7134"/>
<circle cx="655" cy="1451" r="15" fill="#EF7134"/>
<circle cx="1021.4" cy="1472.7" r="15" fill="#EF7134"/>
<circle cx="1210.6" cy="1472" r="15" fill="#EF7134"/>
</g>
<g id="labels" opacity="0.995">
<text x="361.7" y="283.5" font-size="67.5" font-weight="bold" fill="#000" stroke="#fff" stroke-width="0.9" textLength="234.6" lengthAdjust="spacingAndGlyphs">Manguera</text>
<text x="363.6" y="355.0" font-size="67.5" font-weight="bold" fill="#000" stroke="#fff" stroke-width="0.9" textLength="178.4" lengthAdjust="spacingAndGlyphs">flexible</text>
<text x="1167.5" y="177.5" font-size="67.5" font-weight="bold" fill="#000" stroke="#fff" stroke-width="0.9" textLength="245.8" lengthAdjust="spacingAndGlyphs">Regulador</text>
<text x="1157.7" y="250.0" font-size="67.5" font-weight="bold" fill="#000" stroke="#fff" stroke-width="0.9" textLength="256.7" lengthAdjust="spacingAndGlyphs">de succión</text>
<text x="1172.4" y="521.5" font-size="67.5" font-weight="bold" fill="#000" stroke="#fff" stroke-width="0.9" textLength="407.5" lengthAdjust="spacingAndGlyphs">Tubo telescópico</text>
<text x="676.3" y="766.0" font-size="67.5" font-weight="bold" fill="#000" stroke="#fff" stroke-width="0.9" textLength="158.4" lengthAdjust="spacingAndGlyphs">Asa de</text>
<text x="675.9" y="831.2" font-size="67.5" font-weight="bold" fill="#000" stroke="#fff" stroke-width="0.9" textLength="258.1" lengthAdjust="spacingAndGlyphs">transporte</text>
<text x="1196.4" y="914.5" font-size="67.5" font-weight="bold" fill="#000" stroke="#fff" stroke-width="0.9" textLength="349.4" lengthAdjust="spacingAndGlyphs">Cable retráctil</text>
<text x="568.6" y="1060.1" font-size="67.5" font-weight="bold" fill="#000" stroke="#fff" stroke-width="0.9" textLength="271.6" lengthAdjust="spacingAndGlyphs">Interruptor</text>
<text x="72.5" y="1080.9" font-size="67.5" font-weight="bold" fill="#000" stroke="#fff" stroke-width="0.9" textLength="299.4" lengthAdjust="spacingAndGlyphs">Indicador de</text>
<text x="71.7" y="1154.5" font-size="67.5" font-weight="bold" fill="#000" stroke="#fff" stroke-width="0.9" textLength="255.6" lengthAdjust="spacingAndGlyphs">bolsa llena</text>
<text x="286.5" y="1430.4" font-size="67.5" font-weight="bold" fill="#000" stroke="#fff" stroke-width="0.9" textLength="282.0" lengthAdjust="spacingAndGlyphs">Contenedor</text>
<text x="831.7" y="1641.7" font-size="67.5" font-weight="bold" fill="#000" stroke="#fff" stroke-width="0.9" textLength="174.9" lengthAdjust="spacingAndGlyphs">Llantas</text>
<text x="1450.9" y="1396.0" font-size="67.5" font-weight="bold" fill="#000" stroke="#fff" stroke-width="0.9" textLength="266.4" lengthAdjust="spacingAndGlyphs">Boquilla de</text>
<text x="1334.7" y="1468.9" font-size="67.5" font-weight="bold" fill="#000" stroke="#fff" stroke-width="0.9" textLength="381.6" lengthAdjust="spacingAndGlyphs">piso con jalador</text>
<text x="1521.6" y="1540.4" font-size="67.5" font-weight="bold" fill="#000" stroke="#fff" stroke-width="0.9" textLength="195.9" lengthAdjust="spacingAndGlyphs">y cepillo</text>
<text x="1650.7" y="609.0" transform="scale(0.74,1)" font-size="54" fill="#1c1c1c" stroke="#fff" stroke-width="0.3" textLength="438.7" lengthAdjust="spacing">Acero inoxidable</text>
<text x="1724.3" y="1006.6" transform="scale(0.74,1)" font-size="54" fill="#1c1c1c" stroke="#fff" stroke-width="0.3" textLength="351.7" lengthAdjust="spacing">Cable de 5m</text>
<text x="89.9" y="1248.0" transform="scale(0.74,1)" font-size="54" fill="#1c1c1c" stroke="#fff" stroke-width="0.3" textLength="637.9" lengthAdjust="spacing">Bolsa lavable y reusable</text>
<text x="90.7" y="1318.9" transform="scale(0.74,1)" font-size="54" fill="#1c1c1c" stroke="#fff" stroke-width="0.3" textLength="203.5" lengthAdjust="spacing">incluida</text>
<text x="1647.6" y="1642.9" transform="scale(0.74,1)" font-size="54" fill="#1c1c1c" stroke="#fff" stroke-width="0.3" textLength="698.1" lengthAdjust="spacing">Accesorio combinado para</text>
<text x="1939.8" y="1702.6" transform="scale(0.74,1)" font-size="54" fill="#1c1c1c" stroke="#fff" stroke-width="0.3" textLength="405.9" lengthAdjust="spacing">piso y alfombra</text>
</g>
</svg>
</body></html>
